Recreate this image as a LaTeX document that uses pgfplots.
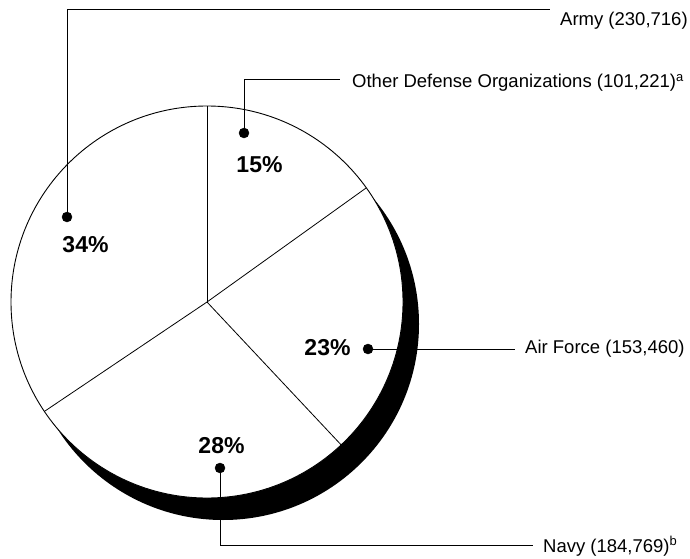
\documentclass[border=0pt]{standalone}
\usepackage{pgfplots}
\pgfplotsset{compat=1.18}
\usepackage{pgfplotstable}
\usepackage{fontspec}
\setmainfont{Liberation Sans}

\pgfplotstableread{
label value
Other 101221
AirForce 153460
Navy 184769
Army 230716
}\slices
\pgfplotstablegetelem{0}{value}\of\slices \edef\vO{\pgfplotsretval}%
\pgfplotstablegetelem{1}{value}\of\slices \edef\vF{\pgfplotsretval}%
\pgfplotstablegetelem{2}{value}\of\slices \edef\vN{\pgfplotsretval}%
\pgfplotstablegetelem{3}{value}\of\slices \edef\vA{\pgfplotsretval}%
\edef\total{\fpeval{\vO+\vF+\vN+\vA}}%
\edef\aO{\fpeval{90-360*\vO/\total}}%
\edef\aF{\fpeval{\aO-360*\vF/\total}}%
\edef\aN{\fpeval{\aF-360*\vN/\total}}%

\begin{document}%
\begin{tikzpicture}
\begin{axis}[x=1pt,y=1pt,xmin=0,xmax=690,ymin=0,ymax=558,hide axis,ticks=none,clip=false,
  anchor=south west, at={(0,0)}]
\path (axis cs:0,0) rectangle (axis cs:690,558);
% shadow
\fill[black] (axis cs:223,234) circle[radius=196pt];
% pie
\filldraw[fill=white,draw=black,line width=0.9pt] (axis cs:207,256) circle[radius=196pt];
\draw[line width=0.8pt] (axis cs:207,256) -- ++(90:196pt);
\draw[line width=0.8pt] (axis cs:207,256) -- ++(\aO:196pt);
\draw[line width=0.8pt] (axis cs:207,256) -- ++(\aF:196pt);
\draw[line width=0.8pt] (axis cs:207,256) -- ++(\aN:196pt);
% callout lines
\addplot[black, line width=0.9pt] coordinates {(67,341) (67,549) (550,549)};
\addplot[black, line width=0.9pt] coordinates {(244,425) (244,479) (340,479)};
\addplot[black, line width=0.9pt] coordinates {(368,209) (515,209)};
\addplot[black, line width=0.9pt] coordinates {(220,90) (220,13) (533,13)};
% dots
\addplot[only marks, mark=*, mark size=5pt, black] coordinates {(244,425) (67,341) (368,209) (220,90)};
% labels
\node[anchor=base west, inner sep=0pt, font=\fontsize{18.5}{20}\selectfont] at (axis cs:560,532) {Army (230,716)};
\node[anchor=base west, inner sep=0pt, font=\fontsize{18.5}{20}\selectfont] at (axis cs:352,470) {Other Defense Organizations (101,221)\textsuperscript{a}};
\node[anchor=base west, inner sep=0pt, font=\fontsize{18.5}{20}\selectfont] at (axis cs:525,205) {Air Force (153,460)};
\node[anchor=base west, inner sep=0pt, font=\fontsize{18.5}{20}\selectfont] at (axis cs:543,6) {Navy (184,769)\textsuperscript{b}};
% percentages
\node[anchor=base, inner sep=0pt, font=\fontsize{23}{24}\selectfont\bfseries] at (axis cs:259.5,386) {15\%};
\node[anchor=base, inner sep=0pt, font=\fontsize{23}{24}\selectfont\bfseries] at (axis cs:85.5,306) {34\%};
\node[anchor=base, inner sep=0pt, font=\fontsize{23}{24}\selectfont\bfseries] at (axis cs:327.5,203) {23\%};
\node[anchor=base, inner sep=0pt, font=\fontsize{23}{24}\selectfont\bfseries] at (axis cs:221.5,105) {28\%};
\end{axis}
\end{tikzpicture}%
\end{document}
